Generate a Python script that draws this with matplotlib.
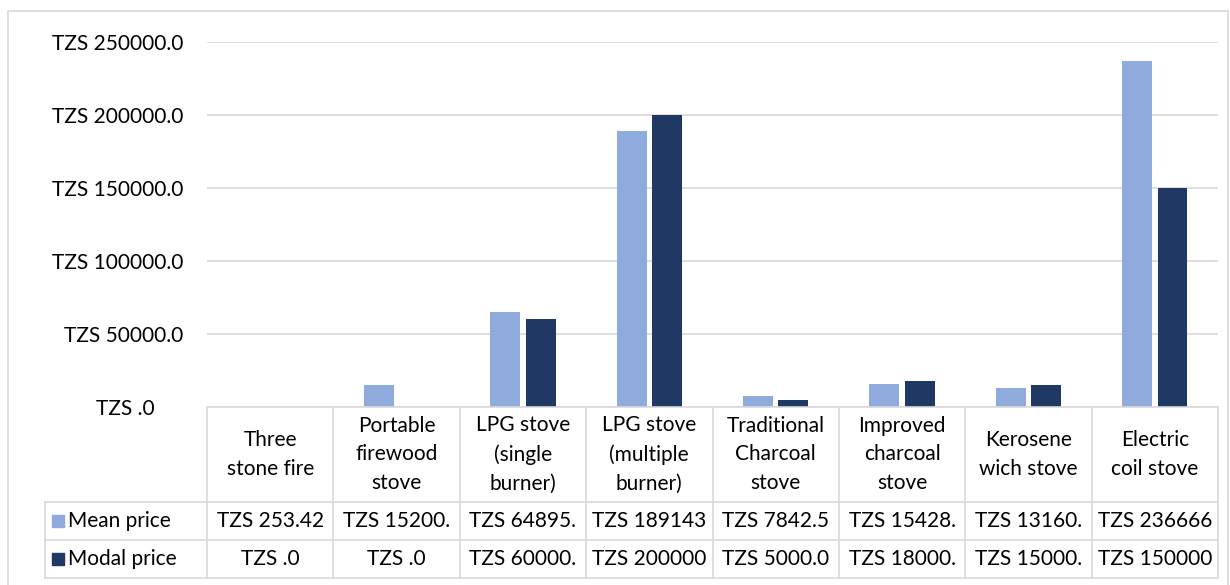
import matplotlib
matplotlib.use("Agg")
import matplotlib.pyplot as plt
from matplotlib.patches import Rectangle
from matplotlib.transforms import ScaledTranslation
import numpy as np

plt.rcParams['font.family'] = ['Lato', 'DejaVu Sans']

categories = ["Three\nstone fire", "Portable\nfirewood\nstove", "LPG stove\n(single\nburner)",
              "LPG stove\n(multiple\nburner)", "Traditional\nCharcoal\nstove",
              "Improved\ncharcoal\nstove", "Kerosene\nwich stove", "Electric\ncoil stove"]
mean_price = [253.42, 15200, 64895, 189143, 7842.5, 15428, 13160, 236666]
modal_price = [0, 0, 60000, 200000, 5000, 18000, 15000, 150000]
mean_text = ["TZS 253.42", "TZS 15200.", "TZS 64895.", "TZS 189143", "TZS 7842.5",
             "TZS 15428.", "TZS 13160.", "TZS 236666"]
modal_text = ["TZS .0", "TZS .0", "TZS 60000.", "TZS 200000", "TZS 5000.0",
              "TZS 18000.", "TZS 15000.", "TZS 150000"]
series = ["Mean price", "Modal price"]
colors = ["#8FAADC", "#203864"]
yticks = [0, 50000, 100000, 150000, 200000, 250000]
ytick_text = ["TZS .0", "TZS 50000.0", "TZS 100000.0", "TZS 150000.0",
              "TZS 200000.0", "TZS 250000.0"]

W, H = 1230, 585
GRID = "#D9D9D9"
FS = 15


def px_box(x0, y0, x1, y1):
    # pixel box measured from the top-left corner -> figure fraction rect
    return [x0 / W, 1 - y1 / H, (x1 - x0) / W, (y1 - y0) / H]


fig = plt.figure(figsize=(W / 100, H / 100), dpi=100)

# chart area border
fig.add_artist(Rectangle((8 / W, -0.05), 1220 / W, 1 - 11 / H + 0.05,
                         transform=fig.transFigure, fill=False, ec=GRID, lw=1.2))

left, right, top, base = 207, 1218, 42, 407
ax = fig.add_axes(px_box(left, top, right, base))
x = np.arange(len(categories))
bw = 0.237
ax.bar(x - 0.14, mean_price, bw, color=colors[0], zorder=3)
ax.bar(x + 0.14, modal_price, bw, color=colors[1], zorder=3)
ax.set_xlim(-0.5, len(categories) - 0.5)
ax.set_ylim(0, 250000)
ax.set_yticks(yticks)
ax.set_yticklabels(ytick_text, fontsize=FS)
ax.set_xticks([])
ax.tick_params(axis='y', length=0, pad=17)
ax.yaxis.grid(True, color=GRID, lw=1.2)
ax.set_axisbelow(True)
for s in ax.spines.values():
    s.set_visible(False)
# the zero label sits further left
lbl0 = ax.get_yticklabels()[0]
lbl0.set_transform(lbl0.get_transform() + ScaledTranslation(-0.29, 0, fig.dpi_scale_trans))

# data table under the bars
tab_left, head_bot, row_h = 45, 502, 38
tab_bot = head_bot + row_h * len(series)
tab = fig.add_axes(px_box(tab_left, base, right, tab_bot))
tab.set_xlim(tab_left, right)
tab.set_ylim(tab_bot, base)
tab.axis('off')
col_w = (right - left) / len(categories)
edges = [left + col_w * i for i in range(len(categories) + 1)]

lk = dict(color=GRID, lw=1.2, clip_on=False)
tab.plot([left, right], [base, base], **lk)
for j in range(len(series) + 1):
    yy = head_bot + row_h * j
    tab.plot([tab_left, right], [yy, yy], **lk)
tab.plot([tab_left, tab_left], [head_bot, tab_bot], **lk)
for e in edges:
    tab.plot([e, e], [base, tab_bot], **lk)

for i, cat in enumerate(categories):
    cx = edges[i] + col_w / 2
    tab.text(cx, (base + head_bot) / 2, cat, ha='center', va='center',
             fontsize=FS, linespacing=1.55)
    for j, vals in enumerate([mean_text, modal_text]):
        tab.text(cx, head_bot + row_h * (j + 0.5), vals[i], ha='center', va='center',
                 fontsize=FS)

for j, name in enumerate(series):
    cy = head_bot + row_h * (j + 0.5)
    tab.add_patch(Rectangle((52, cy - 6), 12, 12, color=colors[j], clip_on=False))
    tab.text(68, cy, name, ha='left', va='center', fontsize=FS)

fig.savefig("out.png", dpi=100, facecolor="white")
